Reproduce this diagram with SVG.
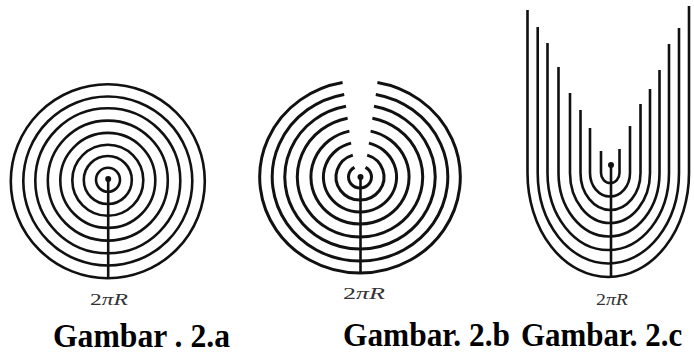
<svg xmlns="http://www.w3.org/2000/svg" width="694" height="354" viewBox="0 0 694 354">
  <style>
    .ring { fill: none; stroke: #111; stroke-width: 2.6; }
    .ringb { fill: none; stroke: #111; stroke-width: 3; stroke-linecap: butt; }
    .stem { stroke: #111; stroke-width: 2.6; }
    .dot { fill: #111; }
    .math { font-family: "Liberation Serif", "DejaVu Serif", serif; font-size: 17px; fill: #333; }
    .cap { font-family: "Liberation Serif", "DejaVu Serif", serif; font-weight: bold; fill: #000; font-size: 34px; }
  </style>
  <rect width="694" height="354" fill="#fff"/>

  <g id="fig-a">
    <circle class="ring" cx="107.8" cy="181.2" r="97"/>
    <circle class="ring" cx="107.8" cy="181" r="84.5"/>
    <circle class="ring" cx="107.8" cy="180.8" r="72.5"/>
    <circle class="ring" cx="107.8" cy="180.6" r="60"/>
    <circle class="ring" cx="107.8" cy="180.4" r="47.5"/>
    <circle class="ring" cx="107.8" cy="180.2" r="35.5"/>
    <circle class="ring" cx="107.8" cy="180" r="24"/>
    <circle class="ring" cx="108" cy="179.8" r="12"/>
    <line class="stem" x1="108.2" y1="179" x2="108.2" y2="279"/>
    <circle class="dot" cx="108.2" cy="179" r="3"/>
    <text class="math" x="90" y="305" textLength="38" lengthAdjust="spacingAndGlyphs">2<tspan font-style="italic">πR</tspan></text>
  </g>

  <g id="fig-b">
    <path class="ringb" d="M342.6 82.5 A100.3 96 0 1 0 377.4 82.5"/>
    <path class="ringb" d="M344.2 94.4 A87.8 84 0 1 0 375.8 94.4"/>
    <path class="ringb" d="M346 106.3 A75.2 72 0 1 0 374 106.3"/>
    <path class="ringb" d="M347.6 118.2 A62.7 60 0 1 0 372.4 118.2"/>
    <path class="ringb" d="M349.4 131.1 A49.1 47 0 1 0 370.6 131.1"/>
    <path class="ringb" d="M351.1 143.1 A36.6 35 0 1 0 368.9 143.1"/>
    <path class="ringb" d="M352.8 155.1 A24 23 0 1 0 367.2 155.1"/>
    <path class="ringb" d="M354.5 167.3 A11.5 11 0 1 0 365.5 167.3"/>
    <line class="stem" x1="360.5" y1="177" x2="360.5" y2="273" stroke-width="3"/>
    <circle class="dot" cx="360.5" cy="177" r="3"/>
    <text class="math" x="343" y="299" textLength="42" lengthAdjust="spacingAndGlyphs">2<tspan font-style="italic">πR</tspan></text>
  </g>

  <g id="fig-c">
    <path class="ring" d="M527.5 10 L527.5 173 A80.75 104 0 0 0 689 173 L689 6"/>
    <path class="ring" d="M537.7 27 L537.7 173 A70.65 90.5 0 0 0 679 173 L679 28"/>
    <path class="ring" d="M547.5 43 L547.5 173 A60.75 77 0 0 0 669 173 L669 44"/>
    <path class="ring" d="M558.5 67 L558.5 173 A50.5 63.5 0 0 0 659.5 173 L659.5 70"/>
    <path class="ring" d="M570 93 L570 173 A40 50 0 0 0 650 173 L650 89"/>
    <path class="ring" d="M580.5 110 L580.5 173 A30 37 0 0 0 640.5 173 L640.5 104"/>
    <path class="ring" d="M590 128 L590 173 A20 23.5 0 0 0 630 173 L630 126"/>
    <path class="ring" d="M601 151 L601 173 A9.25 10 0 0 0 619.5 173 L619.5 149"/>
    <line class="stem" x1="611" y1="165" x2="611" y2="277"/>
    <circle class="dot" cx="611" cy="165" r="3"/>
    <text class="math" x="596" y="305" textLength="32" lengthAdjust="spacingAndGlyphs">2<tspan font-style="italic">πR</tspan></text>
  </g>

  <g id="captions">
    <text class="cap" x="53" y="347" textLength="177" lengthAdjust="spacingAndGlyphs">Gambar . 2.a</text>
    <text class="cap" x="343" y="346" textLength="167" lengthAdjust="spacingAndGlyphs">Gambar. 2.b</text>
    <text class="cap" x="0" y="0" transform="translate(521 346) scale(0.91 1)">Gambar. 2.c</text>
  </g>
</svg>
